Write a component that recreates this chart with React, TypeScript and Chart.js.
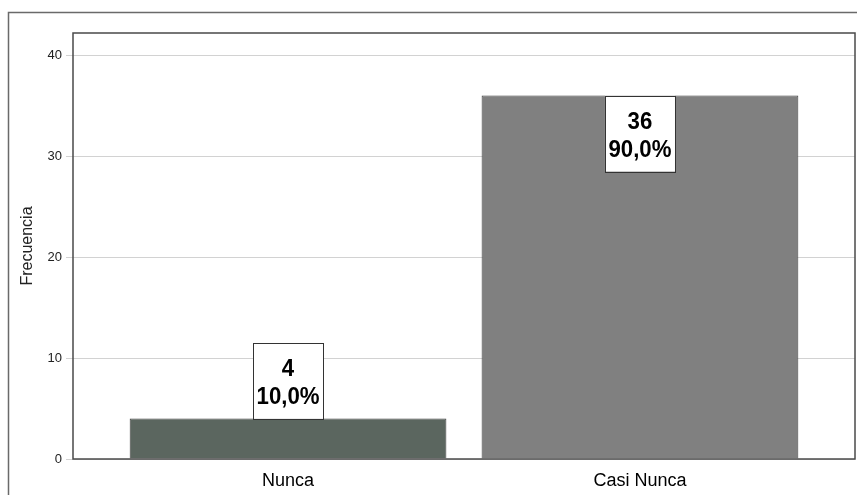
import React, { useEffect, useRef } from "react";
import { Chart, registerables } from "chart.js";

Chart.register(...registerables);

const categories = ["Nunca", "Casi Nunca"];
const counts = [4, 36];
const percents = ["10,0%", "90,0%"];
const barColors = ["#5b665f", "#808080"];
const yTicks = [0, 10, 20, 30, 40];
const yAxisTitle = "Frecuencia";

const SANS = "'Liberation Sans', Arial, sans-serif";

const framePlugin = {
  id: "frameAndLabels",
  beforeDraw(chart: any) {
    const ctx = chart.ctx;
    ctx.save();
    ctx.fillStyle = "#ffffff";
    ctx.fillRect(0, 0, chart.width, chart.height);
    ctx.strokeStyle = "#6a6a6a";
    ctx.lineWidth = 1.5;
    ctx.beginPath();
    ctx.moveTo(8.5, chart.height);
    ctx.lineTo(8.5, 12.5);
    ctx.lineTo(chart.width, 12.5);
    ctx.stroke();
    ctx.restore();
  },
  afterDatasetsDraw(chart: any) {
    const ctx = chart.ctx;
    const a = chart.chartArea;
    ctx.save();
    ctx.strokeStyle = "#4a4a4a";
    ctx.lineWidth = 1.5;
    ctx.strokeRect(a.left, a.top, a.right - a.left, a.bottom - a.top);
    const meta = chart.getDatasetMeta(0);
    const boxW = 70;
    const boxH = 76;
    ctx.font = `bold 24px ${SANS}`;
    const widest = Math.max(...percents.map((p) => ctx.measureText(p).width));
    const sx = Math.min(1, 63 / widest);
    meta.data.forEach((bar: any, i: number) => {
      const barH = bar.base - bar.y;
      const top = barH > boxH + 10 ? bar.y : bar.y - boxH;
      const left = bar.x - boxW / 2;
      ctx.fillStyle = "#ffffff";
      ctx.fillRect(left, top, boxW, boxH);
      ctx.strokeStyle = "#333333";
      ctx.lineWidth = 1;
      ctx.strokeRect(Math.round(left) + 0.5, Math.round(top) + 0.5, boxW, boxH);
      ctx.fillStyle = "#000000";
      ctx.textAlign = "center";
      ctx.textBaseline = "alphabetic";
      ctx.save();
      ctx.translate(bar.x, top);
      ctx.scale(sx, 1);
      ctx.fillText(String(counts[i]), 0, 33);
      ctx.fillText(percents[i], 0, 61);
      ctx.restore();
    });
    ctx.restore();
  },
};

export default function App() {
  const canvasRef = useRef<HTMLCanvasElement | null>(null);

  useEffect(() => {
    const canvas = canvasRef.current;
    if (!canvas) return;
    const chart = new Chart(canvas, {
      type: "bar",
      data: {
        datasets: [
          {
            data: counts.map((c, i) => ({ x: i, y: c })),
            backgroundColor: barColors,
            borderColor: "#3c3c3c",
            borderWidth: 1,
            barPercentage: 0.9,
            categoryPercentage: 1,
          },
        ],
      },
      options: {
        responsive: false,
        animation: false,
        events: [],
        layout: { padding: { left: 0, top: 33, right: 2, bottom: 0 } },
        plugins: {
          legend: { display: false },
          tooltip: { enabled: false },
        },
        scales: {
          x: {
            type: "linear",
            offset: false,
            min: -0.611,
            max: 1.611,
            afterBuildTicks: (scale: any) => {
              scale.ticks = categories.map((_, i) => ({ value: i }));
            },
            afterFit: (scale: any) => {
              scale.height = 36;
            },
            grid: { display: false, drawTicks: false, offset: false },
            border: { display: false },
            ticks: {
              padding: 11,
              color: "#000000",
              font: { family: SANS, size: 18 },
              callback: (v: any) => categories[Math.round(Number(v))] ?? "",
              maxRotation: 0,
              autoSkip: false,
            },
          },
          y: {
            min: 0,
            max: 42.2,
            afterBuildTicks: (scale: any) => {
              scale.ticks = yTicks.map((v) => ({ value: v }));
            },
            afterFit: (scale: any) => {
              scale.width = 73;
            },
            grid: {
              color: "#d2d2d2",
              lineWidth: 1,
              drawTicks: true,
              tickLength: 7,
            },
            border: { display: false },
            ticks: {
              padding: 4,
              color: "#222222",
              font: { family: SANS, size: 13 },
            },
            title: {
              display: true,
              text: yAxisTitle,
              color: "#222222",
              font: { family: SANS, size: 16 },
              padding: { top: 18, bottom: 0 },
            },
          },
        },
      },
      plugins: [framePlugin],
    } as any);
    return () => chart.destroy();
  }, []);

  return (
    <div style={{ position: "fixed", left: 0, top: 0, width: 857, height: 495, background: "#fff" }}>
      <canvas ref={canvasRef} width={857} height={495} style={{ display: "block" }} />
    </div>
  );
}
